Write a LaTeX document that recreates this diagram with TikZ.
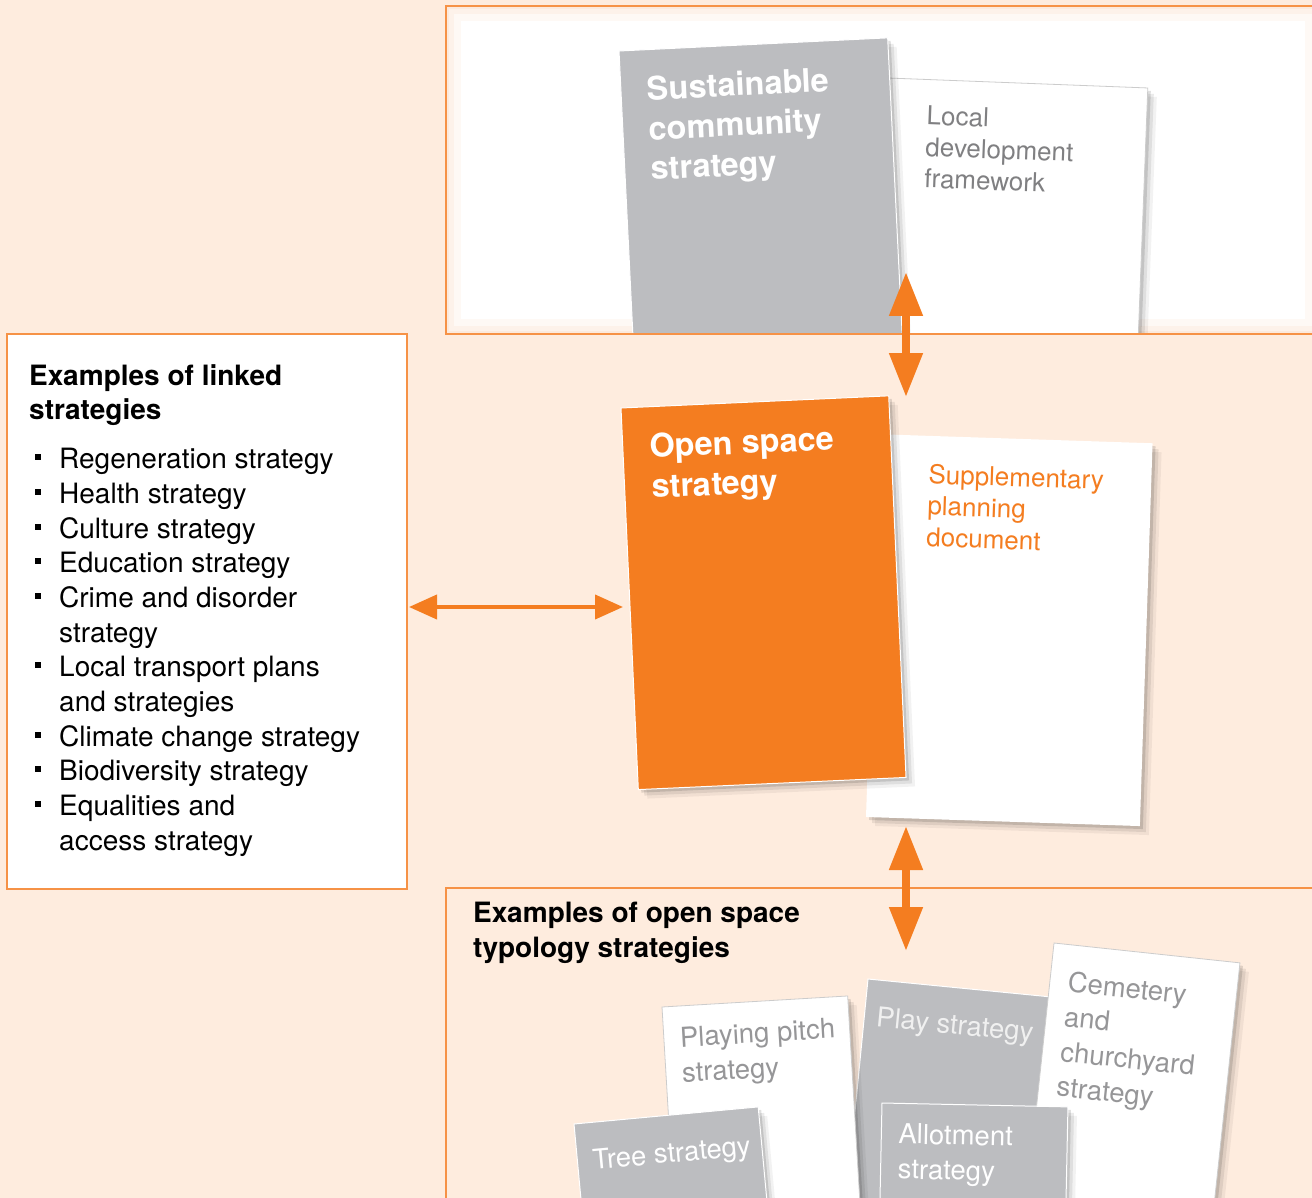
\documentclass[tikz,border=0pt]{standalone}
\usepackage{fontspec}
\setmainfont{TeX Gyre Heros}
\usetikzlibrary{arrows.meta,shadows,positioning}
\definecolor{peach}{RGB}{254,236,222}
\definecolor{osorange}{RGB}{244,125,32}
\definecolor{frameorange}{RGB}{246,146,70}
\definecolor{docgray}{RGB}{188,189,192}
\definecolor{inkgray}{RGB}{128,128,130}
\definecolor{lightink}{RGB}{150,150,152}
\newcommand{\sqbul}{\makebox[24pt][l]{\rule[8.5pt]{6pt}{6pt}}}
\newcommand{\sqgap}{\hspace*{24pt}}
\tikzset{
  panel/.style={draw=frameorange, line width=1.5pt},
  softshadow/.style={
    drop shadow={shadow xshift=3pt, shadow yshift=-3pt, opacity=.12, fill=black},
    drop shadow={shadow xshift=6pt, shadow yshift=-6pt, opacity=.08, fill=black},
    drop shadow={shadow xshift=9pt, shadow yshift=-9pt, opacity=.05, fill=black}},
  grayleaf/.style={fill=docgray, draw=white, line width=1pt, softshadow},
  whiteleaf/.style={fill=white, draw=gray!40, line width=.8pt, softshadow},
  orangeleaf/.style={fill=osorange, draw=white, line width=1pt, softshadow},
  leaftitle/.style={anchor=north west, inner sep=0pt, align=left, text=white,
    font=\fontsize{32.5}{40}\selectfont\bfseries},
  leafnote/.style={anchor=north west, inner sep=0pt, align=left,
    font=\fontsize{26}{31.5}\selectfont},
  smallleaf/.style={anchor=north west, inner sep=0pt, align=left,
    font=\fontsize{27.5}{35}\selectfont},
  headtext/.style={anchor=north west, inner sep=0pt, align=left,
    font=\fontsize{28}{34.7}\selectfont\bfseries},
  listtext/.style={anchor=north west, inner sep=0pt, align=left,
    font=\fontsize{28}{34.7}\selectfont},
  linkarrow/.style={draw=osorange, line width=8pt,
    {Triangle[length=44pt,width=32pt]}-{Triangle[length=44pt,width=32pt]}},
  sidearrow/.style={draw=osorange, line width=4pt,
    {Triangle[length=28pt,width=24pt]}-{Triangle[length=28pt,width=24pt]}}
}
\begin{document}
\begin{tikzpicture}[x=1pt,y=-1pt]
\useasboundingbox (0,0) rectangle (1312,1198);
\fill[peach] (0,0) rectangle (1312,1198);

% top panel
\fill[white] (446,6) rectangle (1320,334);
\begin{scope}
  \clip (446,6) rectangle (1320,334);
  \draw[frameorange, opacity=.05, line width=30pt] (446,6) rectangle (1320,334);
  \draw[frameorange, opacity=.06, line width=16pt] (446,6) rectangle (1320,334);
  \draw[frameorange, opacity=.08, line width=6pt] (446,6) rectangle (1320,334);
  % local development framework
  \begin{scope}[shift={(888,78)}, rotate=-2.2, transform shape]
    \path[whiteleaf] (0,0) rectangle (260,290);
    \node[leafnote, text=inkgray] (ldf) at (40,26) {Local\\development\\framework};
  \end{scope}
  % sustainable community strategy
  \begin{scope}[shift={(619,51)}, rotate=2.8, transform shape]
    \path[grayleaf] (0,0) rectangle (269,320);
    \node[leaftitle] (scs) at (26,26) {Sustainable\\community\\strategy};
  \end{scope}
\end{scope}
\draw[panel] (446,6) rectangle (1320,334);

% left panel
\draw[panel, fill=white] (7,334) rectangle (407,889);
\node[headtext] (linked-head) at (29,364) {Examples of linked\\strategies};
\node[listtext] (linked-list) at (35,448) {\sqbul Regeneration strategy\\
  \sqbul Health strategy\\
  \sqbul Culture strategy\\
  \sqbul Education strategy\\
  \sqbul Crime and disorder\\
  \sqgap strategy\\
  \sqbul Local transport plans\\
  \sqgap and strategies\\
  \sqbul Climate change strategy\\
  \sqbul Biodiversity strategy\\
  \sqbul Equalities and\\
  \sqgap access strategy};

% bottom panel
\draw[panel] (446,888) rectangle (1320,1215);
\node[headtext] (typology-head) at (473,902) {Examples of open space\\typology strategies};

% middle documents
\begin{scope}[shift={(878.7,434.2)}, rotate=-1.9, transform shape]
  \path[whiteleaf, draw=none] (0,0) rectangle (274,383);
  \node[leafnote, text=osorange] (spd) at (51,28) {Supplementary\\planning\\document};
\end{scope}
\begin{scope}[shift={(621,408)}, rotate=2.6, transform shape]
  \path[orangeleaf] (0,0) rectangle (268,382);
  \node[leaftitle] (oss) at (27,27) {Open space\\strategy};
\end{scope}

% typology documents
\begin{scope}[shift={(868,979)}, rotate=-5.6, transform shape]
  \path[grayleaf] (0,0) rectangle (190,260);
  \node[smallleaf, text=white!94!black] (play) at (12,26) {Play strategy};
\end{scope}
\begin{scope}[shift={(1054,943)}, rotate=-6.1, transform shape]
  \path[whiteleaf] (0,0) rectangle (187,290);
  \node[smallleaf, text=lightink] (cemetery) at (18,26) {Cemetery\\and\\churchyard\\strategy};
\end{scope}
\begin{scope}[shift={(882,1103)}, rotate=-1.2, transform shape]
  \path[grayleaf] (0,0) rectangle (186,140);
  \node[smallleaf, text=white] (allotment) at (17,20) {Allotment\\strategy};
\end{scope}
\begin{scope}[shift={(662,1007)}, rotate=3.4, transform shape]
  \path[whiteleaf] (0,0) rectangle (186,220);
  \node[smallleaf, text=lightink] (pitch) at (16,21) {Playing pitch\\strategy};
\end{scope}
\begin{scope}[shift={(574,1124)}, rotate=5.3, transform shape]
  \path[grayleaf] (0,0) rectangle (185,130);
  \node[smallleaf, text=white] (tree) at (15,27) {Tree strategy};
\end{scope}

% links
\coordinate (scs-base) at (906,272);
\coordinate (oss-top) at (906,397);
\coordinate (spd-base) at (906,826);
\coordinate (typology-top) at (906,951);
\coordinate (linked-edge) at (409,607);
\coordinate (oss-side) at (623,607);
\draw[linkarrow] (scs-base) -- (oss-top);
\draw[linkarrow] (spd-base) -- (typology-top);
\draw[sidearrow] (linked-edge) -- (oss-side);
\end{tikzpicture}
\end{document}
